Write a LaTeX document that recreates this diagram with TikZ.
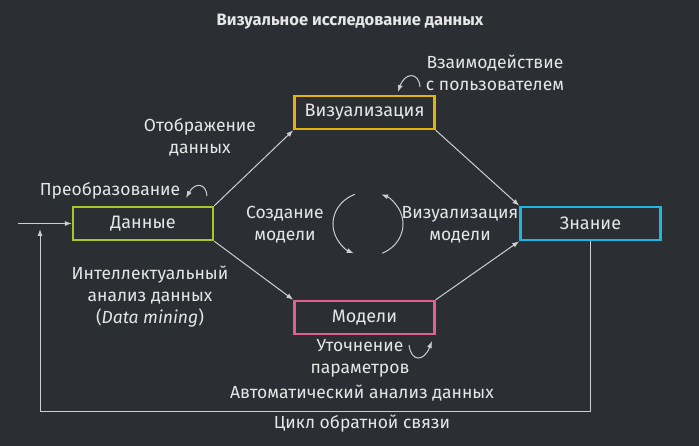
\documentclass[tikz,border=0pt]{standalone}
\usepackage{fontspec}
\setmainfont{Fira Sans}
\usetikzlibrary{arrows.meta}
\definecolor{bg}{HTML}{2B2E33}
\definecolor{fg}{HTML}{E6E6E6}
\definecolor{ln}{HTML}{CFCFCF}
\definecolor{cgreen}{HTML}{A8C62A}
\definecolor{cgold}{HTML}{E2B40A}
\definecolor{cpink}{HTML}{E0608E}
\definecolor{ccyan}{HTML}{1EB6E2}
\tikzset{
  box/.style={draw, line width=2.4pt, minimum width=140pt, minimum height=33pt, inner sep=0pt, text=fg, font=\fontsize{18}{20}\selectfont},
  lbl/.style={text=fg, align=center, inner sep=0pt, font=\fontsize{17.5}{22}\selectfont},
  conn/.style={draw=ln, line width=1pt, -{Latex[length=7pt,width=5pt]}},
}
\begin{document}
\begin{tikzpicture}[x=1pt,y=-1pt]
\fill[bg] (0,0) rectangle (699,446);
\useasboundingbox (0,0) rectangle (699,446);
\node[text=fg, font=\bfseries\fontsize{16.5}{18}\selectfont] (title) at (350,22) {Визуальное исследование данных};
\node[box, draw=cgreen] (d) at (143,223.5) {Данные};
\node[box, draw=cgold] (v) at (364.5,112.5) {Визуализация};
\node[box, draw=cpink] (m) at (364.5,317.5) {Модели};
\node[box, draw=ccyan] (z) at (590.5,223.5) {Знание};
\draw[conn] (d.north east) -- (v.south west);
\draw[conn] (v.south east) -- (z.north west);
\draw[conn] (d.south east) -- (m.north west);
\draw[conn] (m.north east) -- (z.south west);
\coordinate (in) at (18,223.5);
\draw[conn] (in) -- (d.west);
\coordinate (fb1) at (590.5,411);
\coordinate (fb2) at (40,411);
\coordinate (fb3) at (40,229);
\draw[conn] (z.south) -- (fb1) -- (fb2) -- (fb3);
% labels
\node[lbl] (l1) at (110,191) {Преобразование};
\node[lbl] (l2) at (200,137) {Отображение\\данных};
\node[lbl] (l3) at (495,73) {Взаимодействие\\с пользователем};
\node[lbl] (l4) at (285,225) {Создание\\модели};
\node[lbl] (l5) at (460,225) {Визуализация\\модели};
\node[lbl] (l6) at (150,297) {Интеллектуальный\\анализ данных\\(\textit{Data mining})};
\node[lbl] (l7) at (360,358) {Уточнение\\параметров};
\node[lbl] (l8) at (362,393) {Автоматический анализ данных};
\node[lbl] (l9) at (362,424) {Цикл обратной связи};
% cycle arcs
\coordinate (cc) at (368,224);
\draw[conn] ([shift={(112:35pt and 32pt)}]cc) arc[start angle=112, end angle=246, x radius=35pt, y radius=32pt];
\draw[conn] ([shift={(-66:35pt and 32pt)}]cc) arc[start angle=-66, end angle=68, x radius=35pt, y radius=32pt];
% curly arrows
\coordinate (a1s) at (207,196);
\coordinate (a1e) at (186,198);
\draw[conn] (a1s) .. controls (206,183) and (195,182) .. (a1e);
\coordinate (a2s) at (420,87);
\coordinate (a2e) at (398,92);
\draw[conn] (a2s) .. controls (419,72) and (405,72) .. (a2e);
\coordinate (a3s) at (409,345);
\coordinate (a3e) at (432,341);
\draw[conn] (a3s) .. controls (411,362) and (424,362) .. (a3e);
\end{tikzpicture}
\end{document}
